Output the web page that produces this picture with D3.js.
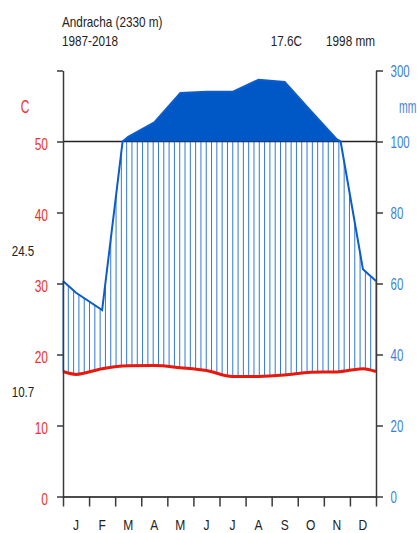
<!DOCTYPE html>
<html>
<head>
<meta charset="utf-8">
<script src="https://cdn.jsdelivr.net/npm/d3@7"></script>
<style>
  html, body { margin: 0; padding: 0; background: #fff; }
  svg { display: block; font-family: "Liberation Sans", Arial, sans-serif; }
</style>
</head>
<body>
<svg id="chart" width="417" height="533"></svg>
<script>
// Climate diagram (Walter & Lieth style)
const months = ["J", "F", "M", "A", "M", "J", "J", "A", "S", "O", "N", "D"];
const temperature = [17.2, 18.0, 18.4, 18.45, 18.15, 17.75, 16.9, 16.9, 17.1, 17.5, 17.55, 18.0]; // °C
const precipitation = [57.4, 52.5, 113, 154, 237, 240, 240, 274, 268, 186, 106, 64];     // mm
const tempTicks = [0, 10, 20, 30, 40, 50, 60];
const tempTickLabels = ["0", "10", "20", "30", "40", "50", ""];
const precipTicks = [0, 20, 40, 60, 80, 100, 300];
const stationName = "Andracha (2330 m)";
const period = "1987-2018";
const meanTemp = "17.6C";
const annualPrecip = "1998 mm";
const maxTempLabel = "24.5";
const minTempLabel = "10.7";

const svg = d3.select("#chart");
const plotLeft = 63, plotRight = 376, plotTop = 70.5, plotBottom = 496.5;

const x = d3.scaleLinear().domain([0, 12]).range([plotLeft, plotRight]);
const yT = d3.scaleLinear().domain([0, 60]).range([plotBottom, plotTop]);
// precipitation: 2 mm per °C up to 100 mm, compressed ten-fold above
const yS = d3.scaleLinear().domain([0, 120]).range([plotBottom, plotTop]);
const squash = p => p <= 100 ? p : 100 + (p - 100) / 10;
const yP = p => yS(squash(p));

// month centres plus the two edges (mean of December and January)
const xs = [0, ...months.map((m, i) => i + 0.5), 12];
const tEdge = (temperature[0] + temperature[11]) / 2;
const pEdge = (precipitation[0] + precipitation[11]) / 2;
const tExt = [tEdge, ...temperature, tEdge];
const pExt = [pEdge, ...precipitation, pEdge];

// precipitation outline with the 100 mm crossings inserted
const pPts = [];
for (let i = 0; i < xs.length; i++) {
  pPts.push({ m: xs[i], p: pExt[i] });
  if (i < xs.length - 1) {
    const a = pExt[i], b = pExt[i + 1];
    if ((a - 100) * (b - 100) < 0) {
      pPts.push({ m: xs[i] + (100 - a) / (b - a) * (xs[i + 1] - xs[i]), p: 100 });
    }
  }
}
const interp = (arr, m) => {
  for (let i = 0; i < xs.length - 1; i++) {
    if (m >= xs[i] && m <= xs[i + 1]) {
      const f = (m - xs[i]) / (xs[i + 1] - xs[i]);
      return arr[i] + f * (arr[i + 1] - arr[i]);
    }
  }
  return arr[arr.length - 1];
};

// text helper: narrow glyphs via horizontal scaling
function label(g, px, py, str, o) {
  return g.append("text")
    .attr("transform", `translate(${px},${py}) scale(${o.sx},1)`)
    .attr("text-anchor", o.anchor || "start")
    .attr("font-size", o.size)
    .attr("fill", o.fill || "#222")
    .text(str);
}

// humid period hatching
const hatch = svg.append("g").attr("stroke", "#2f78da").attr("stroke-width", 1);
d3.range(60).forEach(k => {
  const m = k * 12 / 59;
  const t = interp(tExt, m), p = interp(pExt, m);
  if (p > 2 * t) {
    hatch.append("line")
      .attr("x1", x(m)).attr("x2", x(m))
      .attr("y1", yT(t)).attr("y2", yP(Math.min(p, 100)));
  }
});

// 100 mm reference line
svg.append("line")
  .attr("x1", plotLeft).attr("x2", plotRight)
  .attr("y1", yP(100)).attr("y2", yP(100))
  .attr("stroke", "#222").attr("stroke-width", 1.3);

// precipitation above 100 mm
svg.append("path")
  .datum(pPts)
  .attr("d", d3.area()
    .defined(d => d.p >= 100)
    .x(d => x(d.m)).y0(yP(100)).y1(d => yP(d.p)))
  .attr("fill", "#0058c6");

// precipitation curve
svg.append("path")
  .datum(pPts)
  .attr("d", d3.line().x(d => x(d.m)).y(d => yP(d.p)))
  .attr("fill", "none").attr("stroke", "#0b5ccc").attr("stroke-width", 2);

// temperature curve
svg.append("path")
  .datum(xs.map((m, i) => ({ m, t: tExt[i] })))
  .attr("d", d3.line().curve(d3.curveMonotoneX).x(d => x(d.m)).y(d => yT(d.t)))
  .attr("fill", "none").attr("stroke", "#e8180c").attr("stroke-width", 3);

// axes
const styleAxis = g => {
  g.selectAll(".domain, .tick line").attr("stroke", "#3a3a3a").attr("stroke-width", 1.5);
};
const gL = svg.append("g").attr("transform", `translate(${plotLeft},0)`)
  .call(d3.axisLeft(yT).tickValues(tempTicks).tickSize(6).tickSizeOuter(0)
    .tickFormat((d, i) => tempTickLabels[i]))
  .call(styleAxis);
gL.selectAll(".tick text").attr("x", null).attr("dy", null)
  .attr("transform", "translate(-15,7.5) scale(0.75,1)")
  .attr("text-anchor", "end").attr("font-size", 16).attr("fill", "#f0302a");

const gR = svg.append("g").attr("transform", `translate(${plotRight},0)`)
  .call(d3.axisRight(yS).tickValues(precipTicks.map(squash)).tickSize(7).tickSizeOuter(0)
    .tickFormat((d, i) => precipTicks[i]))
  .call(styleAxis);
gR.selectAll(".tick text").attr("x", null).attr("dy", null)
  .attr("transform", "translate(14.5,6.2) scale(0.72,1)")
  .attr("text-anchor", "start").attr("font-size", 16).attr("fill", "#3b7fd9");

const gB = svg.append("g").attr("transform", `translate(0,${plotBottom})`)
  .call(d3.axisBottom(x).tickValues(d3.range(13)).tickSize(10).tickSizeOuter(0).tickFormat(""))
  .call(styleAxis);
gB.select(".domain").attr("stroke", "#111");

months.forEach((mo, i) => label(svg, x(i + 0.5), 529.5, mo, { size: 14, sx: 0.86, anchor: "middle" }));

// unit labels
label(svg, 25, 113, "C", { size: 18, sx: 0.66, anchor: "middle", fill: "#f0302a" });
label(svg, 399, 112.5, "mm", { size: 18, sx: 0.58, fill: "#3b7fd9" });

// header
label(svg, 62, 27.3, stationName, { size: 14, sx: 0.84 });
label(svg, 62, 46, period, { size: 14, sx: 0.84 });
label(svg, 302, 46, meanTemp, { size: 14, sx: 0.84, anchor: "end" });
label(svg, 375, 46, annualPrecip, { size: 14, sx: 0.84, anchor: "end" });

// monthly extremes
label(svg, 34.3, 256, maxTempLabel, { size: 14, sx: 0.83, anchor: "end" });
label(svg, 34.3, 397, minTempLabel, { size: 14, sx: 0.83, anchor: "end" });
</script>
</body>
</html>
